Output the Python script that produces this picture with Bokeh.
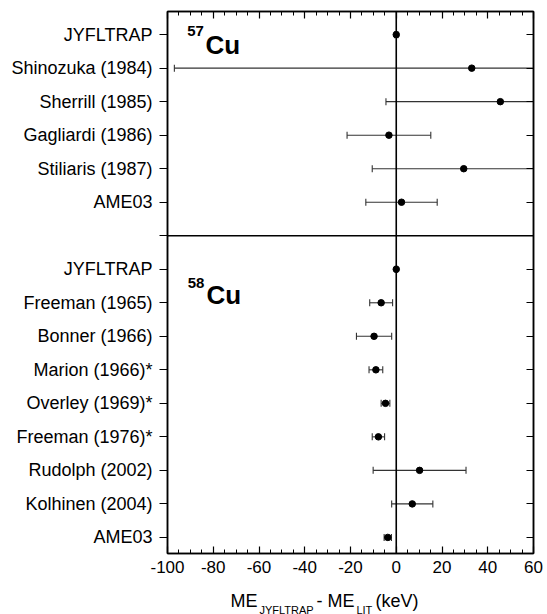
import numpy as np
from bokeh.plotting import figure
from bokeh.layouts import column
from bokeh.models import (Range1d, LinearAxis, FixedTicker, SingleIntervalTicker,
                          Span, CustomJSTickFormatter, ColumnDataSource)
from bokeh.core.properties import value
from bokeh.embed import file_html
from bokeh.resources import INLINE

# ---------------- data ----------------
names57 = ["JYFLTRAP", "Shinozuka (1984)", "Sherrill (1985)", "Gagliardi (1986)",
           "Stiliaris (1987)", "AME03"]
val57 = [0.0, 33.0, 45.5, -3.2, 29.5, 2.3]
err57 = [0.7, 130.0, 50.0, 18.3, 40.0, 15.6]

names58 = ["JYFLTRAP", "Freeman (1965)", "Bonner (1966)", "Marion (1966)*",
           "Overley (1969)*", "Freeman (1976)*", "Rudolph (2002)", "Kolhinen (2004)", "AME03"]
val58 = [0.0, -6.6, -9.7, -8.9, -4.7, -7.8, 10.2, 7.0, -3.7]
err58 = [0.5, 5.0, 7.7, 3.0, 1.9, 2.7, 20.3, 9.0, 1.6]

x_ticks = [-100, -80, -60, -40, -20, 0, 20, 40, 60]

FONT = "Liberation Sans"

# rows: 57Cu on top, blank divider row, 58Cu below
pos57 = list(range(len(names57)))
divider = len(names57)
pos58 = [divider + 1 + i for i in range(len(names58))]

names = names57 + names58
vals = np.array(val57 + val58)
errs = np.array(err57 + err58)
pos = np.array(pos57 + pos58, dtype=float)

src = ColumnDataSource(dict(y=pos, x=vals, lo=vals - errs, hi=vals + errs))

p = figure(width=547, height=580, output_backend="svg", toolbar_location=None,
           x_range=Range1d(x_ticks[0], x_ticks[-1]),
           y_range=Range1d(pos[-1] + 0.48, -0.69),
           min_border_left=167, min_border_right=14, min_border_top=11, min_border_bottom=27)
p.grid.visible = False
p.background_fill_color = "white"
p.border_fill_color = "white"
p.outline_line_color = "black"
p.outline_line_width = 1.5

hyphen_fmt = CustomJSTickFormatter(code="return tick.toString()")

# bottom x axis
xa = p.xaxis[0]
xa.ticker = SingleIntervalTicker(interval=20, num_minor_ticks=4)
xa.formatter = hyphen_fmt
xa.major_tick_in = 7
xa.major_tick_out = 0
xa.minor_tick_in = 4
xa.minor_tick_out = 0
xa.axis_line_width = 1.5
xa.major_tick_line_width = 1.2
xa.major_label_text_font = FONT
xa.major_label_text_font_size = "17px"
xa.major_label_text_color = "black"
xa.major_label_standoff = 7

# top x axis (ticks only)
xt = LinearAxis(ticker=SingleIntervalTicker(interval=20, num_minor_ticks=4),
                formatter=CustomJSTickFormatter(code="return ''"),
                major_tick_in=7, major_tick_out=0, minor_tick_in=4, minor_tick_out=0,
                axis_line_width=1.5, major_tick_line_width=1.2,
                major_label_standoff=0, major_label_text_font_size="1px")
p.add_layout(xt, "above")

# left y axis with labels
ticks_y = list(range(int(pos[-1]) + 1))
overrides = {int(y): n for y, n in zip(pos, names)}
overrides[divider] = ""
ya = p.yaxis[0]
ya.ticker = FixedTicker(ticks=ticks_y)
ya.major_label_overrides = overrides
ya.major_tick_in = 0
ya.major_tick_out = 8
ya.minor_tick_in = 0
ya.minor_tick_out = 0
ya.axis_line_width = 1.5
ya.major_tick_line_width = 1.2
ya.major_label_text_font = FONT
ya.major_label_text_font_size = "18px"
ya.major_label_text_color = "black"
ya.major_label_standoff = 7

# right y axis (ticks only)
yr = LinearAxis(ticker=FixedTicker(ticks=ticks_y),
                formatter=CustomJSTickFormatter(code="return ''"),
                major_tick_in=7, major_tick_out=0, minor_tick_in=0, minor_tick_out=0,
                axis_line_width=1.5, major_tick_line_width=1.2,
                major_label_standoff=0, major_label_text_font_size="1px")
p.add_layout(yr, "right")

# zero line and divider
p.add_layout(Span(location=0, dimension="height", line_color="black", line_width=1.6))
p.add_layout(Span(location=divider, dimension="width", line_color="black", line_width=1.5))

# error bars
bar_col = "#333333"
p.segment(x0="lo", x1="hi", y0="y", y1="y", source=src, line_color=bar_col, line_width=1.1)
p.scatter(x="lo", y="y", source=src, marker="dash", angle=np.pi / 2, size=7,
          line_color=bar_col, line_width=1.1)
p.scatter(x="hi", y="y", source=src, marker="dash", angle=np.pi / 2, size=7,
          line_color=bar_col, line_width=1.1)
p.scatter(x="x", y="y", source=src, marker="circle", size=6.5,
          fill_color="black", line_color="black")

# isotope labels
iso = [("57", -91.4, -0.10, "15px"), ("Cu", -83.4, 0.30, "26px"),
       ("58", -91.2, 7.42, "15px"), ("Cu", -83.0, 7.76, "26px")]
for s, x, y, fs in iso:
    p.text(x=[x], y=[y], text=[s], text_font=value(FONT), text_font_size=fs,
           text_font_style="bold", text_baseline="alphabetic", text_align="left",
           text_color="black")

# x-axis title strip (ME_JYFLTRAP - ME_LIT (keV)) drawn in a small figure below,
# sharing the x range (its frame is aligned with the main frame by the column layout)
t = figure(width=547, height=34, output_backend="svg", toolbar_location=None,
           x_range=p.x_range, y_range=Range1d(34, 0),
           min_border_left=167, min_border_right=14, min_border_top=0, min_border_bottom=0)
t.axis.visible = False
t.grid.visible = False
t.outline_line_color = None
t.background_fill_color = "white"
t.border_fill_color = "white"
title_parts = [("ME", -72.5, 20.5, "18px"),
               ("JYFLTRAP", -59.8, 29.0, "11px"),
               ("- ME", -34.9, 20.5, "18px"),
               ("LIT", -17.4, 29.0, "11px"),
               ("(keV)", -9.1, 20.5, "18px")]
for s, x, y, fs in title_parts:
    t.text(x=[x], y=[y], text=[s], text_font=value(FONT), text_font_size=fs,
           text_baseline="alphabetic", text_align="left", text_color="black")

layout = column(p, t, spacing=0)
open("out.html", "w").write(file_html(layout, INLINE))
